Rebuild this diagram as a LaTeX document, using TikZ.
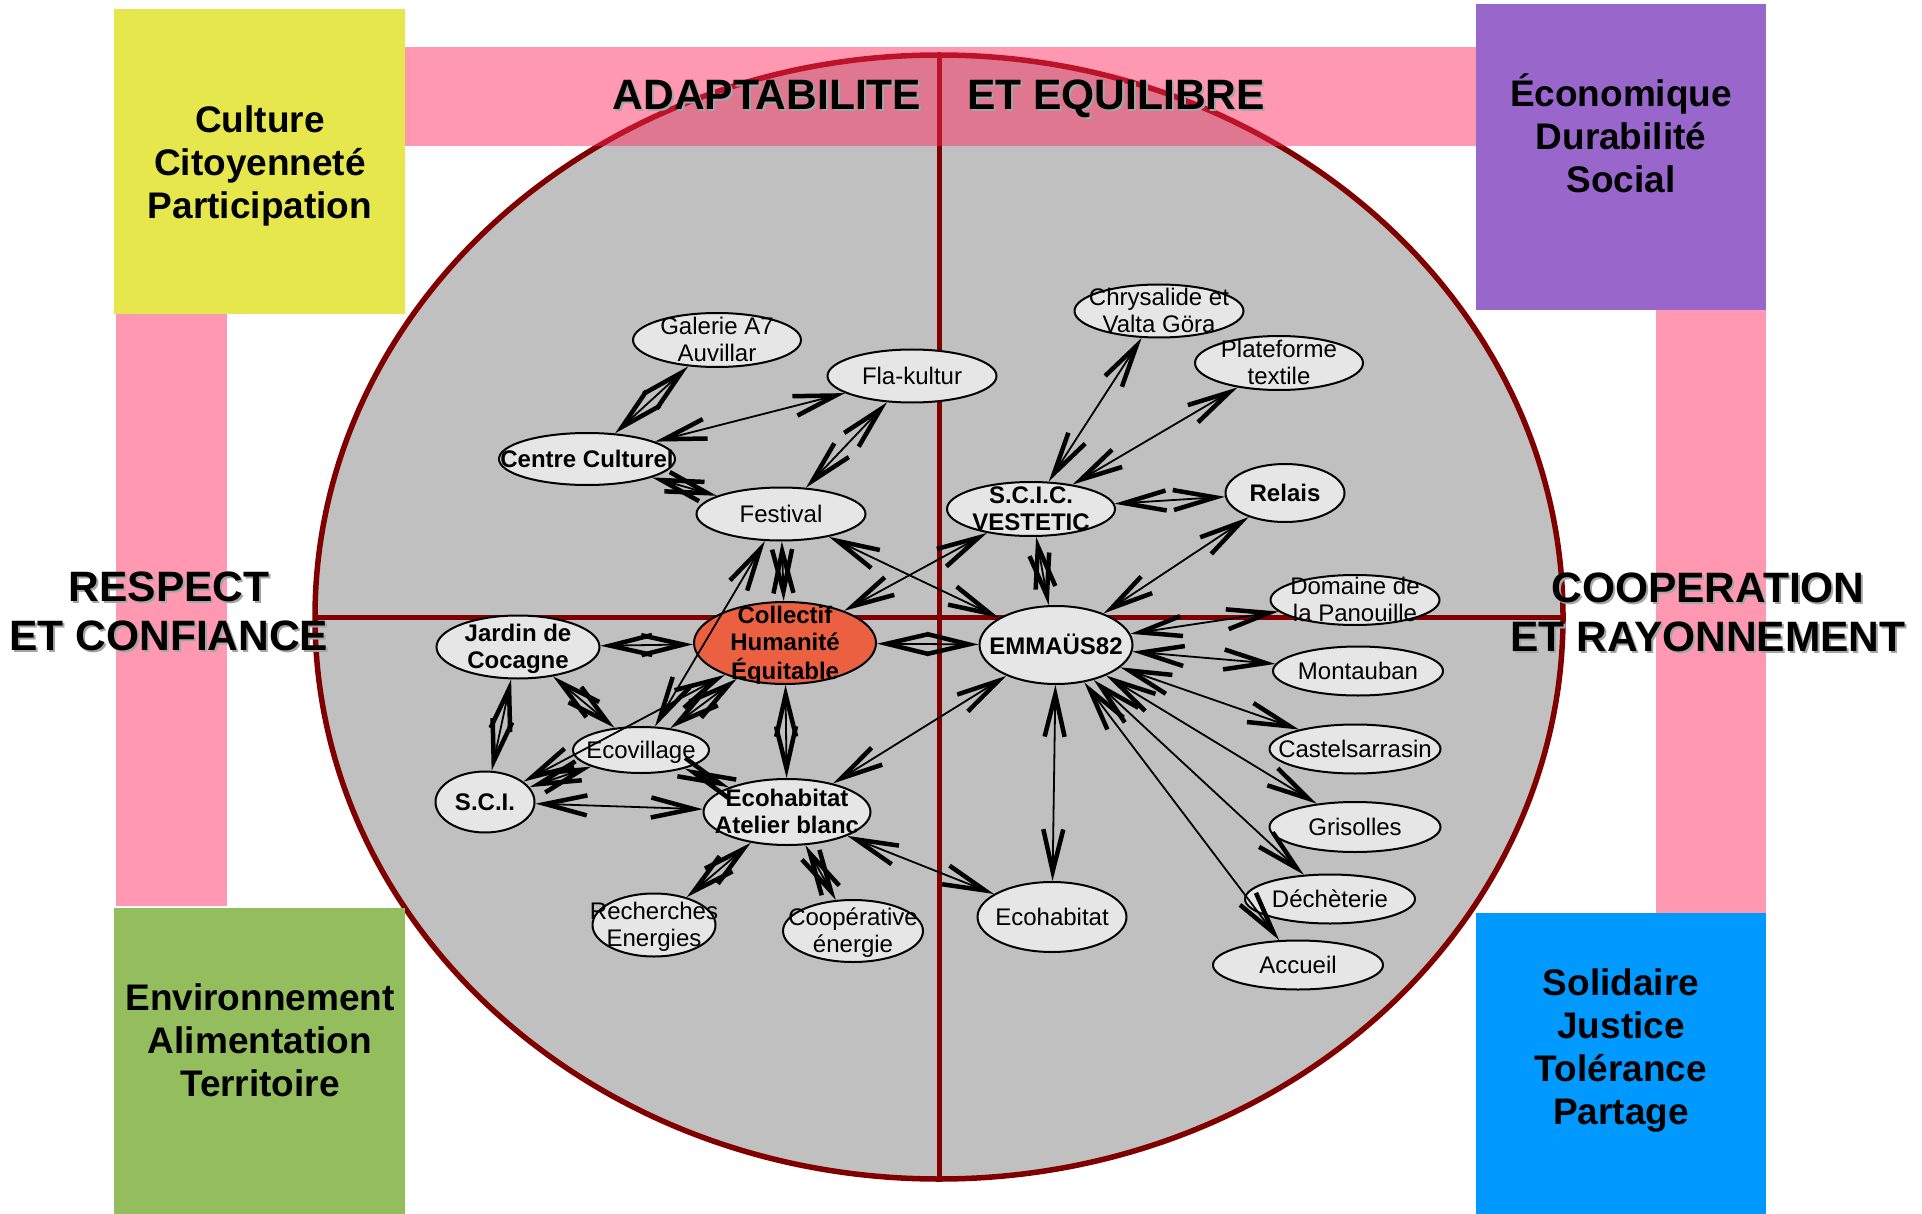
\documentclass[tikz,border=0pt]{standalone}
\usepackage{fontspec}
\setmainfont{Liberation Sans}
\usetikzlibrary{shapes.geometric,arrows.meta}

\definecolor{ellgray}{RGB}{192,192,192}
\definecolor{bordeaux}{RGB}{128,0,0}
\definecolor{rosebar}{RGB}{255,40,90}
\definecolor{bubgray}{RGB}{230,230,230}
\definecolor{tomate}{RGB}{234,96,64}
\definecolor{boxyellow}{RGB}{230,230,77}
\definecolor{boxpurple}{RGB}{153,102,204}
\definecolor{boxgreen}{RGB}{148,189,94}
\definecolor{boxblue}{RGB}{0,153,255}
\definecolor{ombre}{RGB}{165,165,165}

% text of a bubble, not counted in the size of the bubble
\newcommand{\btxt}[1]{\smash{\makebox[0pt]{\raisebox{-.38em}{\begin{tabular}{@{}c@{}}#1\end{tabular}}}}}

\tikzset{
	>={Straight Barb[length=42pt,width=20pt,line width=4.5pt]},
	dims/.style 2 args={minimum width=#1pt, minimum height=#2pt},
	bub/.style={ellipse, draw=black, line width=2pt, fill=bubgray, inner sep=0pt, font=\fontsize{24}{27}\selectfont},
	bubb/.style={bub, font=\fontsize{24}{27}\selectfont\bfseries},
	lnk/.style={<->, line width=1.8pt},
	bar/.style={fill=rosebar, fill opacity=0.48},
	big/.style={font=\fontsize{42.5}{49}\selectfont\bfseries, align=center, inner sep=0pt},
	corner/.style={font=\fontsize{37}{43}\selectfont\bfseries, align=center, inner sep=0pt}
}

\begin{document}
\begin{tikzpicture}[x=1pt,y=-1pt]
	\useasboundingbox (0,0) rectangle (1922,1214);

	%ellipse and cross
	\coordinate (o) at (939,617);
	\coordinate (top) at (939,55);
	\coordinate (bot) at (939,1179);
	\coordinate (lft) at (315,617);
	\coordinate (rgt) at (1563,617);

	\draw[bordeaux, line width=5.5pt, fill=ellgray] (o) ellipse [x radius=624pt, y radius=562pt];
	\draw[bordeaux, line width=5pt] (top) -- (bot);
	\draw[bordeaux, line width=5pt] (lft) -- (rgt);

	%pink frame
	\fill[bar] (405,47) rectangle (1476,146);
	\fill[bar] (116,314) rectangle (227,906);
	\fill[bar] (1656,310) rectangle (1766,913);

	%corner boxes
	\fill[boxyellow] (114,9) rectangle (405,314);
	\fill[boxpurple] (1476,4) rectangle (1766,310);
	\fill[boxgreen] (114,908) rectangle (405,1214);
	\fill[boxblue] (1476,913) rectangle (1766,1214);

	\node[corner] (culture) at (260,166) {Culture\\Citoyenneté\\Participation};
	\node[corner] (eco) at (1621,133) {Économique\\Durabilité\\Social};
	\node[corner] (env) at (260,1040) {Environnement\\Alimentation\\Territoire};
	\node[corner] (soli) at (1621,1051) {Solidaire\\Justice\\Tolérance\\Partage};

	%values, with their shadow
	\node[big, text=ombre] (adapt-s) at (769,97) {ADAPTABILITE};
	\node[big] (adapt) at (767,95) {ADAPTABILITE};
	\node[big, text=ombre] (equi-s) at (1118,101) {ET EQUILIBRE};
	\node[big] (equi) at (1116,99) {ET EQUILIBRE};
	\node[big, text=ombre] (respect-s) at (171,613) {RESPECT\\ET CONFIANCE};
	\node[big] (respect) at (169,611) {RESPECT\\ET CONFIANCE};
	\node[big, text=ombre] (coop-s) at (1710,614) {COOPERATION\\ET RAYONNEMENT};
	\node[big] (cooper) at (1708,612) {COOPERATION\\ET RAYONNEMENT};

	%left part
	\node[bub, dims={168}{54}] (galerie) at (717,340) {\btxt{Galerie A7\\Auvillar}};
	\node[bub, dims={169}{53}] (fla) at (912,376) {\btxt{Fla-kultur}};
	\node[bubb, dims={176}{52}] (centre) at (587,459) {\btxt{Centre Culturel}};
	\node[bub, dims={169}{53}] (festival) at (781,514) {\btxt{Festival}};
	\node[bubb, dims={163}{63}] (jardin) at (518,647) {\btxt{Jardin de\\Cocagne}};
	\node[bubb, dims={182}{82}, fill=tomate] (collectif) at (785,643) {\btxt{Collectif\\Humanité\\Équitable}};
	\node[bub, dims={136}{46}] (ecovil) at (641,750) {\btxt{Ecovillage}};
	\node[bubb, dims={99}{61}] (sci) at (485,802) {\btxt{S.C.I.}};
	\node[bubb, dims={167}{66}] (atelier) at (787,812) {\btxt{Ecohabitat\\Atelier blanc}};
	\node[bub, dims={123}{63}] (recherches) at (654,925) {\btxt{Recherches\\Energies}};
	\node[bub, dims={140}{62}] (coopnrj) at (853,931) {\btxt{Coopérative\\énergie}};

	%right part
	\node[bub, dims={169}{53}] (chrys) at (1159,311) {\btxt{Chrysalide et\\Valta Göra}};
	\node[bub, dims={168}{54}] (plat) at (1279,363) {\btxt{Plateforme\\textile}};
	\node[bubb, dims={168}{54}] (scic) at (1031,509) {\btxt{S.C.I.C.\\VESTETIC}};
	\node[bubb, dims={119}{58}] (relais) at (1285,493) {\btxt{Relais}};
	\node[bub, dims={169}{50}] (domaine) at (1355,600) {\btxt{Domaine de\\la Panouille}};
	\node[bubb, dims={153}{78}] (emmaus) at (1056,645) {\btxt{EMMAÜS82}};
	\node[bub, dims={170}{49}] (montauban) at (1358,671) {\btxt{Montauban}};
	\node[bub, dims={171}{49}] (castel) at (1355,749) {\btxt{Castelsarrasin}};
	\node[bub, dims={171}{50}] (grisolles) at (1355,827) {\btxt{Grisolles}};
	\node[bub, dims={170}{49}] (dech) at (1330,899) {\btxt{Déchèterie}};
	\node[bub, dims={170}{49}] (accueil) at (1298,965) {\btxt{Accueil}};
	\node[bub, dims={149}{70}] (ecohab) at (1052,917) {\btxt{Ecohabitat}};

	%links
	\draw[lnk] (galerie) -- (centre);
	\draw[lnk] (centre) -- (fla);
	\draw[lnk] (fla) -- (festival);
	\draw[lnk] (centre) -- (festival);
	\draw[lnk] (festival) -- (collectif);
	\draw[lnk] (festival) -- (emmaus);
	\draw[lnk] (festival) -- (ecovil);
	\draw[lnk] (scic) -- (collectif);
	\draw[lnk] (chrys) -- (scic);
	\draw[lnk] (plat) -- (scic);
	\draw[lnk] (scic) -- (relais);
	\draw[lnk] (scic) -- (emmaus);
	\draw[lnk] (relais) -- (emmaus);
	\draw[lnk] (emmaus) -- (domaine);
	\draw[lnk] (emmaus) -- (montauban);
	\draw[lnk] (emmaus) -- (castel);
	\draw[lnk] (emmaus) -- (grisolles);
	\draw[lnk] (emmaus) -- (dech);
	\draw[lnk] (emmaus) -- (accueil);
	\draw[lnk] (emmaus) -- (ecohab);
	\draw[lnk] (atelier) -- (emmaus);
	\draw[lnk] (collectif) -- (emmaus);
	\draw[lnk] (atelier) -- (ecohab);
	\draw[lnk] (collectif) -- (jardin);
	\draw[lnk] (collectif) -- (ecovil);
	\draw[lnk] (collectif) -- (atelier);
	\draw[lnk] (collectif) -- (sci);
	\draw[lnk] (jardin) -- (sci);
	\draw[lnk] (jardin) -- (ecovil);
	\draw[lnk] (ecovil) -- (sci);
	\draw[lnk] (ecovil) -- (atelier);
	\draw[lnk] (sci) -- (atelier);
	\draw[lnk] (atelier) -- (recherches);
	\draw[lnk] (atelier) -- (coopnrj);

\end{tikzpicture}
\end{document}
